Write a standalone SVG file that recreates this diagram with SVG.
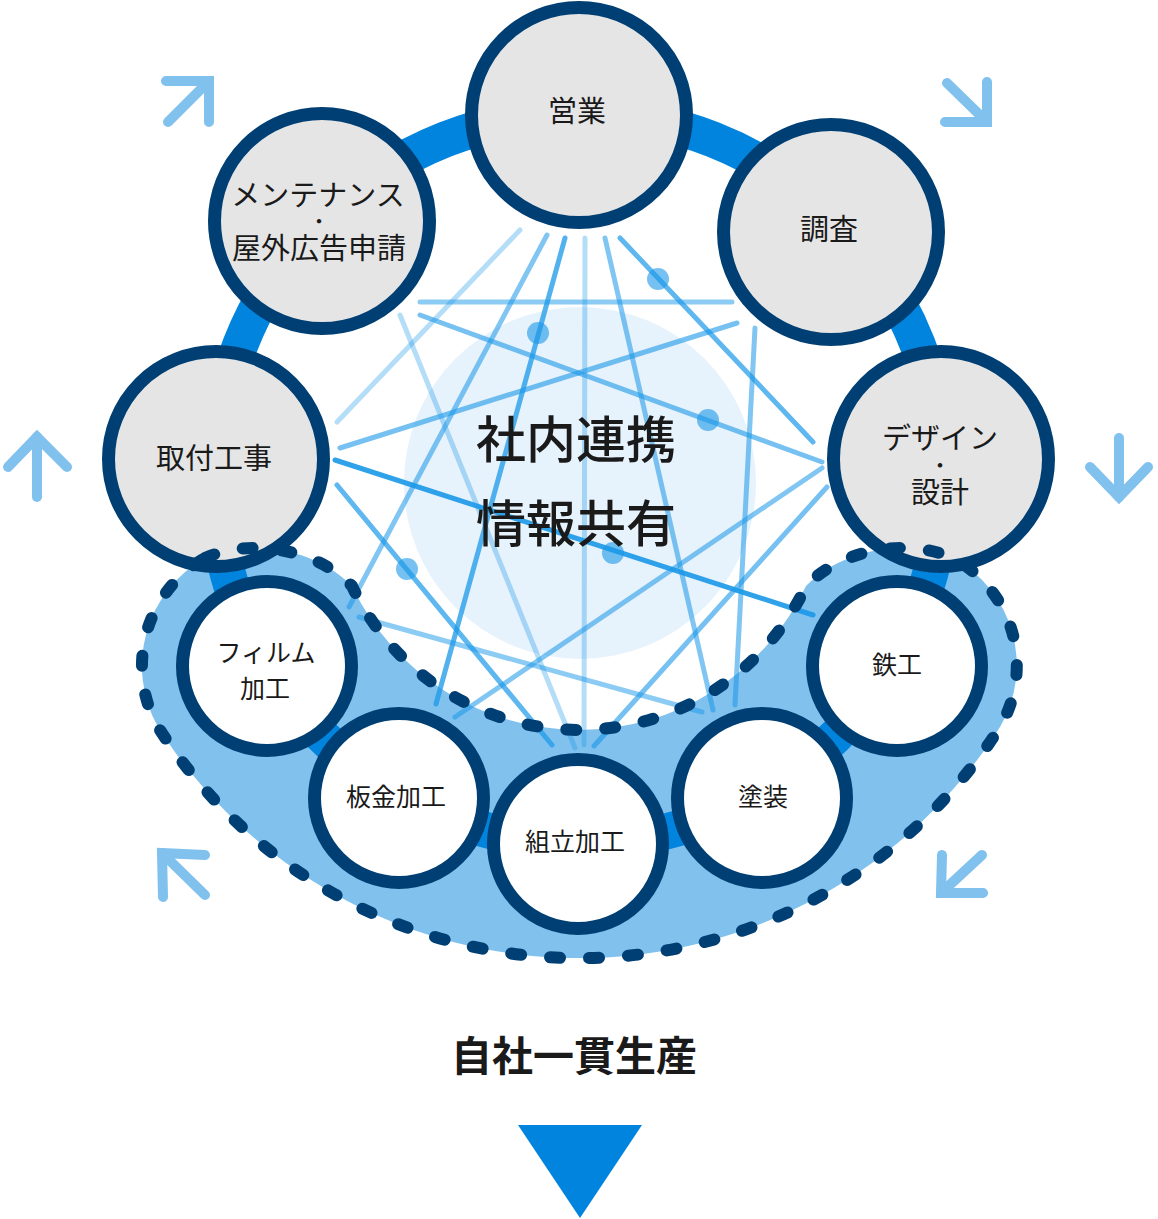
<svg xmlns="http://www.w3.org/2000/svg" width="1158" height="1219" viewBox="0 0 1158 1219">
<style>
.t{font-family:"Liberation Sans","Noto Sans CJK JP",sans-serif;fill:#1a1a1a;text-anchor:middle}
.top{font-size:29px}
.bot{font-size:25px}
.sep{font-weight:bold}
.gray{fill:#e5e5e5;stroke:#003f73;stroke-width:13}
.white{fill:#ffffff;stroke:#003f73;stroke-width:13}
.ln{stroke:#1a98e8;stroke-width:5;stroke-linecap:round;fill:none}
.dot{fill:#1a98e8;fill-opacity:.6}
.arr{fill:none;stroke:#80c1ee;stroke-width:10;stroke-linecap:round;stroke-linejoin:miter}
</style>
<rect width="1158" height="1219" fill="#ffffff"/>
<!-- rotation arrows -->
<g id="arrows">
<polyline class="arr" points="166,81 209,81 209,122"/><line class="arr" x1="168" y1="122" x2="209" y2="81"/>
<polyline class="arr" points="945,122 987,122 987,82"/><line class="arr" x1="947" y1="83" x2="987" y2="122"/>
<polyline class="arr" points="1090,467 1119,497 1148,467"/><line class="arr" x1="1119" y1="438" x2="1119" y2="497"/>
<polyline class="arr" points="983,893 941,893 942,855"/><line class="arr" x1="982" y1="855" x2="941" y2="893"/>
<polyline class="arr" points="163,897 162,853 205,855"/><line class="arr" x1="205" y1="895" x2="162" y2="853"/>
<polyline class="arr" points="8,467 37,437 67,467"/><line class="arr" x1="37" y1="437" x2="37" y2="497"/>
</g>
<!-- center area -->
<circle cx="580" cy="483" r="176" fill="#e6f2fc"/>
<!-- production band fill -->
<path id="band" d="M205,558 C250,538 315,548 352,586 A251,251 0 0 0 806,586 C843,548 908,538 953,558 A122,122 0 0 1 1000,727 A499,499 0 0 1 158,727 A124,124 0 0 1 205,558 Z" fill="#80c1ee"/>
<!-- ring -->
<circle cx="579" cy="478" r="364" fill="none" stroke="#0084de" stroke-width="36"/>
<!-- connectors -->
<g id="connectors">
<line class="ln" stroke-opacity=".33" x1="520" y1="230" x2="337" y2="422"/>
<line class="ln" stroke-opacity=".55" x1="547" y1="235" x2="349" y2="607"/>
<line class="ln" stroke-opacity=".75" x1="565" y1="238" x2="436" y2="704"/>
<line class="ln" stroke-opacity=".33" x1="585" y1="238" x2="584" y2="745"/>
<line class="ln" stroke-opacity=".55" x1="605" y1="238" x2="713" y2="710"/>
<line class="ln" stroke-opacity=".7" x1="620" y1="238" x2="813" y2="442"/>
<line class="ln" stroke-opacity=".5" x1="420" y1="302" x2="732" y2="302"/>
<line class="ln" stroke-opacity=".6" x1="420" y1="315" x2="822" y2="462"/>
<line class="ln" stroke-opacity=".6" x1="737" y1="323" x2="340" y2="448"/>
<line class="ln" stroke-opacity=".33" x1="400" y1="315" x2="575" y2="748"/>
<line class="ln" stroke-opacity=".55" x1="755" y1="328" x2="735" y2="705"/>
<line class="ln" stroke-opacity=".9" x1="335" y1="460" x2="813" y2="615"/>
<line class="ln" stroke-opacity=".7" x1="337" y1="485" x2="552" y2="745"/>
<line class="ln" stroke-opacity=".55" x1="822" y1="468" x2="455" y2="717"/>
<line class="ln" stroke-opacity=".6" x1="827" y1="487" x2="594" y2="746"/>
<line class="ln" stroke-opacity=".5" x1="359" y1="617" x2="702" y2="712"/>
<circle class="dot" cx="658" cy="279" r="11"/>
<circle class="dot" cx="538" cy="333" r="11"/>
<circle class="dot" cx="708" cy="420" r="11"/>
<circle class="dot" cx="407" cy="569" r="11"/>
<circle class="dot" cx="613" cy="553" r="11"/>
</g>
<text class="t" x="576" y="458" font-size="50" font-weight="500">社内連携</text>
<text class="t" x="576" y="542" font-size="50" font-weight="500">情報共有</text>
<!-- upper nodes -->
<g id="node-eigyo"><circle class="gray" cx="579" cy="115" r="107.5"/><text class="t top" x="577" y="122">営業</text></g>
<g id="node-chosa"><circle class="gray" cx="831" cy="232" r="107.5"/><text class="t top" x="829" y="240">調査</text></g>
<g id="node-design"><circle class="gray" cx="941" cy="459" r="107.5"/><text class="t top" x="940" y="449">デザイン</text><text class="t sep" x="940" y="472" font-size="18">・</text><text class="t top" x="940" y="503">設計</text></g>
<g id="node-toritsuke"><circle class="gray" cx="216" cy="459" r="107.5"/><text class="t top" x="214" y="469">取付工事</text></g>
<g id="node-maintenance"><circle class="gray" cx="322" cy="221" r="107.5"/><text class="t top" x="318" y="206">メンテナンス</text><text class="t sep" x="319" y="228" font-size="17">・</text><text class="t top" x="319" y="258.5">屋外広告申請</text></g>
<!-- lower nodes -->
<g id="node-film"><circle class="white" cx="267" cy="666" r="84.5"/><text class="t bot" x="266" y="662" font-size="24">フィルム</text><text class="t bot" x="265" y="698">加工</text></g>
<g id="node-bankin"><circle class="white" cx="399" cy="798" r="84.5"/><text class="t bot" x="396" y="806">板金加工</text></g>
<g id="node-kumitate"><circle class="white" cx="578" cy="844" r="84.5"/><text class="t bot" x="575" y="851">組立加工</text></g>
<g id="node-tosou"><circle class="white" cx="762" cy="798" r="84.5"/><text class="t bot" x="763" y="806">塗装</text></g>
<g id="node-tekko"><circle class="white" cx="897" cy="666" r="84.5"/><text class="t bot" x="897" y="674">鉄工</text></g>
<!-- dotted outline -->
<path id="band-outline" d="M205,558 C250,538 315,548 352,586 A251,251 0 0 0 806,586 C843,548 908,538 953,558 A122,122 0 0 1 1000,727 A499,499 0 0 1 158,727 A124,124 0 0 1 205,558 Z" fill="none" stroke="#003f73" stroke-width="12" stroke-linecap="round" stroke-dasharray="10 29"/>
<g id="result">
<text class="t" x="574" y="1071" font-size="41" font-weight="bold">自社一貫生産</text>
<polygon points="518,1125 642,1125 580,1218" fill="#0084de"/>
</g>
</svg>
